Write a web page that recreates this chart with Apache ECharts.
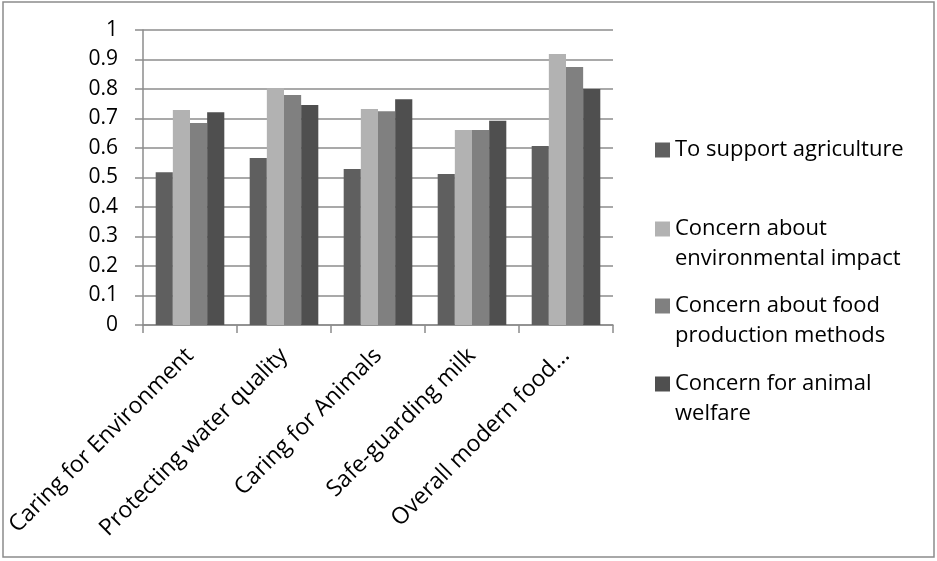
<!DOCTYPE html>
<html>
<head>
<meta charset="utf-8">
<script src="https://cdn.jsdelivr.net/npm/echarts@6/dist/echarts.min.js"></script>
<style>
  html, body { margin: 0; padding: 0; background: #fff; }
  #chart { width: 937px; height: 561px; }
</style>
</head>
<body>
<div id="chart"></div>
<script>
// categories and values
const categories = [
  'Caring for Environment',
  'Protecting water quality',
  'Caring for Animals',
  'Safe-guarding milk',
  'Overall modern food...'
]
const seriesNames = [
  'To support agriculture',
  'Concern about environmental impact',
  'Concern about food production methods',
  'Concern for animal welfare'
]
// legend text is wrapped like the original
const legendLabels = [
  'To support agriculture',
  'Concern about\nenvironmental impact',
  'Concern about food\nproduction methods',
  'Concern for animal\nwelfare'
]
const supportAgriculture = [0.518, 0.566, 0.529, 0.512, 0.607]
const environmentalImpact = [0.729, 0.803, 0.732, 0.661, 0.919]
const productionMethods = [0.685, 0.780, 0.725, 0.661, 0.875]
const animalWelfare = [0.721, 0.746, 0.765, 0.692, 0.800]
const yTicks = [0, 0.1, 0.2, 0.3, 0.4, 0.5, 0.6, 0.7, 0.8, 0.9, 1]

const colors = ['#5f5f5f', '#b2b2b2', '#808080', '#4f4f4f']
const values = [supportAgriculture, environmentalImpact, productionMethods, animalWelfare]
const font = '"Open Sans", sans-serif'

const chart = echarts.init(document.getElementById('chart'))

// one legend block per entry; an empty first line keeps the marker
// level with the first text line of the wrapped entries
const legendTops = [135, 184, 261, 339]
const legends = seriesNames.map((name, i) => ({
  data: [name],
  orient: 'vertical',
  left: 655,
  top: legendTops[i],
  padding: 0,
  icon: 'rect',
  itemWidth: 15,
  itemHeight: 15,
  selectedMode: false,
  formatter: () => (i === 0 ? legendLabels[i] : '{pad| }\n' + legendLabels[i]),
  textStyle: {
    fontFamily: font,
    fontSize: 22,
    lineHeight: 30,
    color: '#000',
    rich: { pad: { fontSize: 22, lineHeight: 30 } }
  }
}))

const option = {
  animation: false,
  backgroundColor: '#fff',
  color: colors,
  legend: legends,
  graphic: [{
    type: 'rect',
    shape: { x: 3, y: 2, width: 931, height: 555 },
    style: { fill: 'none', stroke: '#8c8c8c', lineWidth: 1.5 },
    silent: true
  }],
  grid: { left: 143, right: 324, top: 30, bottom: 236 },
  xAxis: {
    type: 'category',
    data: categories,
    axisLine: { lineStyle: { color: '#8c8c8c', width: 1.5 } },
    axisTick: { show: true, length: 8, lineStyle: { color: '#8c8c8c', width: 1.5 } },
    axisLabel: {
      rotate: 45,
      margin: 27,
      interval: 0,
      fontFamily: font,
      fontSize: 23,
      color: '#000'
    }
  },
  yAxis: {
    type: 'value',
    min: 0,
    max: 1,
    interval: 0.1,
    axisLine: { show: true, lineStyle: { color: '#8c8c8c', width: 1.5 } },
    axisTick: { show: true, length: 8, lineStyle: { color: '#8c8c8c', width: 1.5 } },
    splitLine: { lineStyle: { color: '#8c8c8c', width: 1.5 } },
    axisLabel: {
      margin: 25,
      fontFamily: font,
      fontSize: 21,
      color: '#000',
      formatter: v => String(yTicks[Math.round(v * 10)])
    }
  },
  series: seriesNames.map((name, i) => ({
    name,
    type: 'bar',
    data: values[i],
    barGap: '0%',
    barCategoryGap: '27%',
    itemStyle: { color: colors[i] }
  }))
}

chart.setOption(option)
</script>
</body>
</html>
